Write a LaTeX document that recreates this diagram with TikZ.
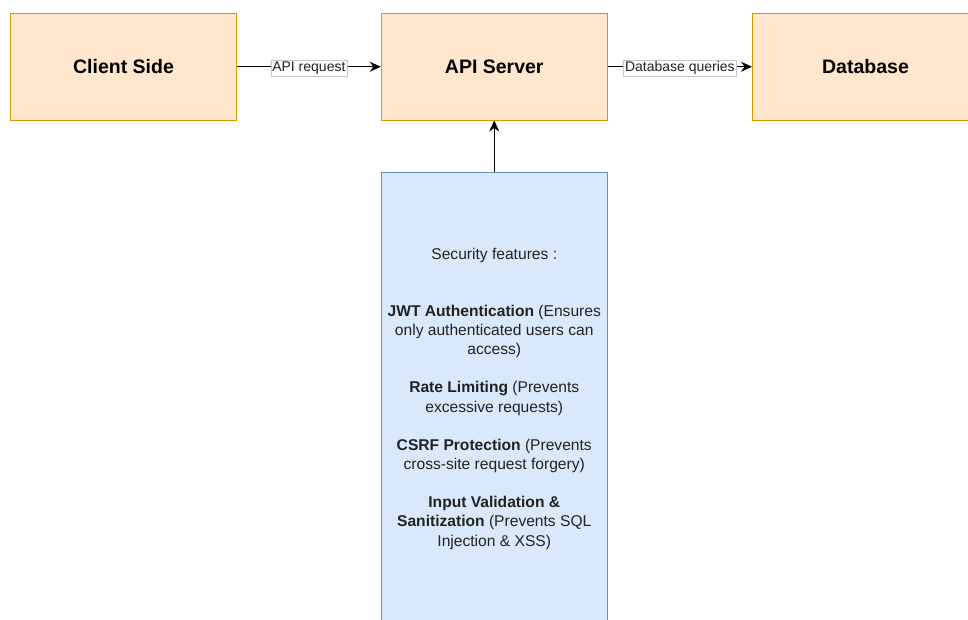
\documentclass[tikz,border=0pt]{standalone}
\usepackage{fontspec}
\setmainfont{Liberation Sans}
\usetikzlibrary{arrows.meta}
\definecolor{orangefill}{HTML}{FFE6CC}
\definecolor{orangeline}{HTML}{D79B00}
\definecolor{bluefill}{HTML}{DAE8FC}
\definecolor{blueline}{HTML}{6C8EBF}
\definecolor{bodytext}{HTML}{222222}
\begin{document}
\begin{tikzpicture}[x=1pt,y=-1pt,
  box/.style={draw=orangeline, fill=orangefill, line width=1pt,
    minimum width=226pt, minimum height=106.5pt, inner sep=0pt,
    font=\fontsize{19.5}{23}\selectfont\bfseries},
  secbox/.style={draw=blueline, fill=bluefill, line width=1pt,
    minimum width=225.5pt, minimum height=452pt, inner sep=0pt,
    align=center, text=bodytext,
    font=\fontsize{15.6}{19.13}\selectfont},
  lbl/.style={fill=white, draw=black!22, line width=0.6pt,
    inner xsep=1.5pt, inner ysep=1.5pt, text=bodytext, yshift=-1.5pt,
    font=\fontsize{14}{16}\selectfont},
  conn/.style={line width=1pt, -{Stealth[length=11pt,width=10pt]}}]
\useasboundingbox (0,0) rectangle (968,619);
\clip (0,0) rectangle (968,619);

% top row of components
\node[box] (client) at (123.5,66.75) {Client Side};
\node[box] (api) at (494.25,66.75) {API Server};
\node[box] (db) at (865.5,66.75) {Database};

% security layer below the API server
\node[secbox] (sec) at (494.25,398.5) {%
  Security features :\\[38.26pt]
  \textbf{JWT Authentication} (Ensures\\
  only authenticated users can\\
  access)\\[19.13pt]
  \textbf{Rate Limiting} (Prevents\\
  excessive requests)\\[19.13pt]
  \textbf{CSRF Protection} (Prevents\\
  cross-site request forgery)\\[19.13pt]
  \textbf{Input Validation \&}\\
  \textbf{Sanitization} (Prevents SQL\\
  Injection \& XSS)};

% connectors
\draw[conn] (client) -- node[lbl] {API request} (api);
\draw[conn] (api) -- node[lbl] {Database queries} (db);
\draw[conn] (sec) -- (api);
\end{tikzpicture}
\end{document}
